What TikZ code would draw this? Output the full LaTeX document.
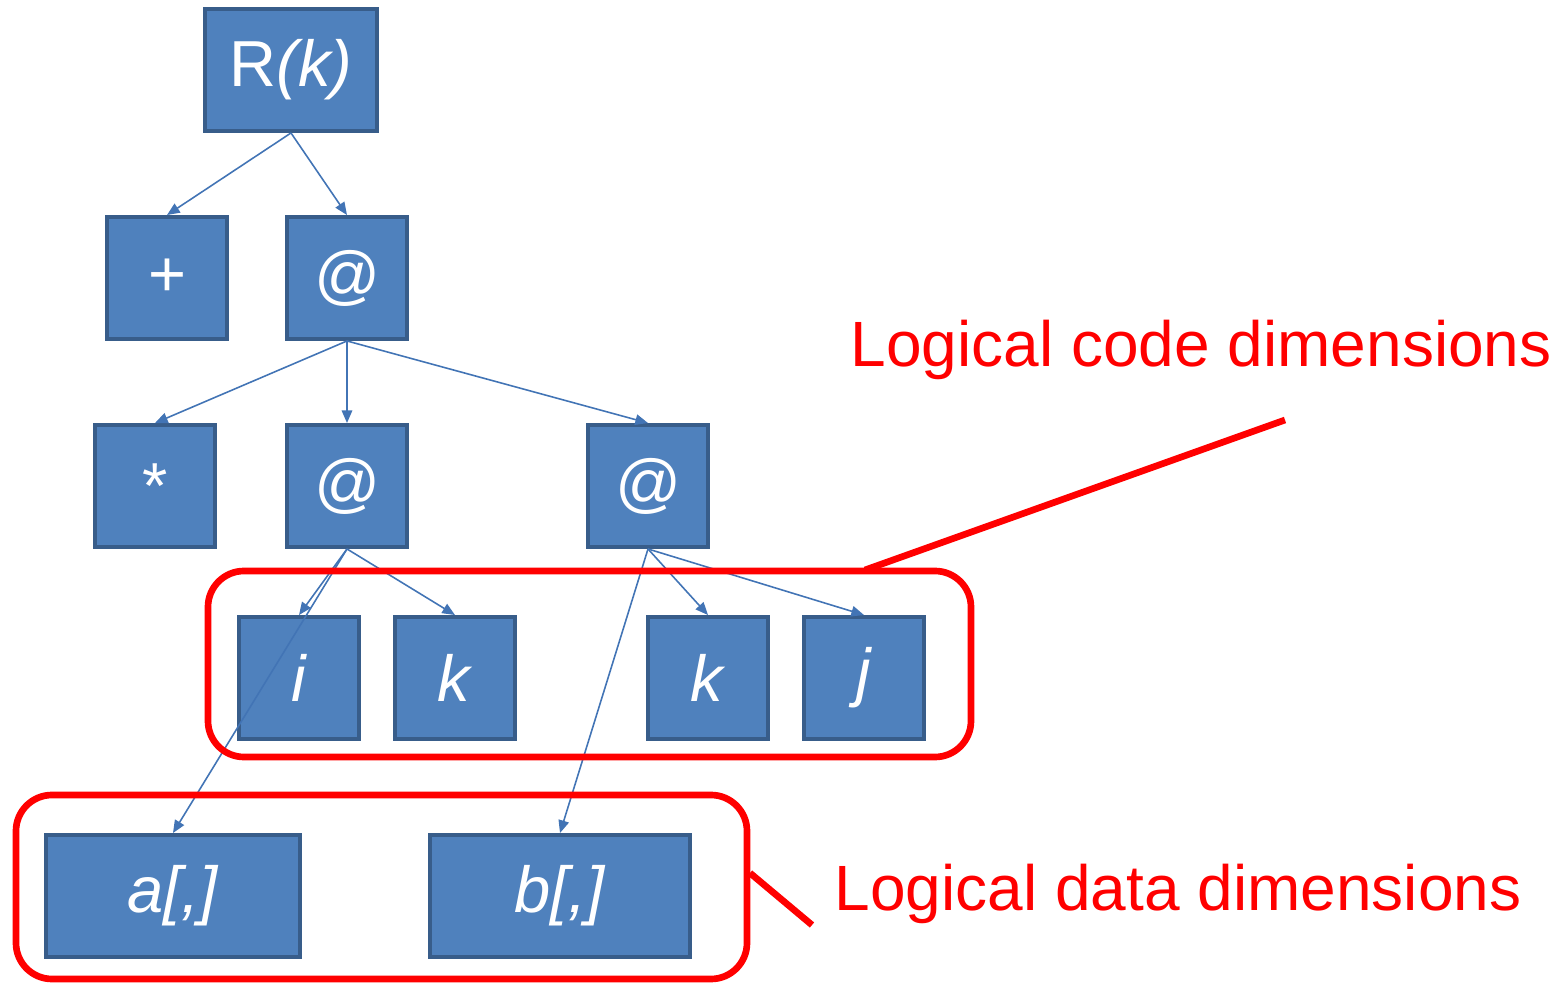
\documentclass[tikz,border=0pt]{standalone}
\usepackage{fontspec}
\setmainfont{Liberation Sans}
\usetikzlibrary{arrows.meta}
\definecolor{boxfill}{HTML}{4F81BD}
\definecolor{boxline}{HTML}{385D8A}
\definecolor{edgeblue}{HTML}{4274B5}
\tikzset{
  blk/.style={draw=boxline, fill=boxfill, line width=1.1pt, text=white,
    minimum width=1.20cm, minimum height=1.22cm, inner sep=0pt, font=\fontsize{18.5}{20}\selectfont},
  edge/.style={draw=edgeblue, line width=0.45pt, -{Triangle[length=3.6pt,width=3pt]}},
  grp/.style={draw=red, line width=1.9pt, rounded corners=0.36cm},
  note/.style={text=red, inner sep=0pt, anchor=base west, font=\fontsize{18.2}{20}\selectfont}
}
\begin{document}
\begin{tikzpicture}[x=0.01cm, y=-0.01cm]
  \useasboundingbox (0,0) rectangle (1556,985);
  % Tree nodes
  \node[blk, minimum width=1.72cm] (root) at (291,70) {R\textit{(k)}};
  \node[blk] (plus) at (167,278) {+};
  \node[blk] (at1) at (347,278) {\textit{@}};
  \node[blk] (star) at (155,486) {*};
  \node[blk] (at2) at (347,486) {\textit{@}};
  \node[blk] (at3) at (648,486) {\textit{@}};
  \node[blk] (ci) at (299,678) {\textit{i}};
  \node[blk] (ck) at (455,678) {\textit{k}};
  \node[blk] (dk) at (708,678) {\textit{k}};
  \node[blk] (dj) at (864,678) {\textit{j}};
  \node[blk, minimum width=2.54cm] (arr a) at (173,896) {\textit{a[,]}};
  \node[blk, minimum width=2.59cm] (arr b) at (560,896) {\textit{b[,]}};
  % Edges
  \draw[edge] (root.south) -- (plus.north);
  \draw[edge] (root.south) -- (at1.north);
  \draw[edge] (at1.south) -- (star.north);
  \draw[edge] (at1.south) -- (at2.north);
  \draw[edge] (at1.south) -- (at3.north);
  \draw[edge] (at2.south) -- (ci.north);
  \draw[edge] (at2.south) -- (ck.north);
  \draw[edge] (at2.south) -- (arr a.north);
  \draw[edge] (at3.south) -- (dk.north);
  \draw[edge] (at3.south) -- (dj.north);
  \draw[edge] (at3.south) -- (arr b.north);
  % Groups
  \draw[grp] (208,571) rectangle (971,757);
  \draw[grp] (16,795) rectangle (747,979);
  % Labels and pointers
  \node[note] (code lbl) at (850,367) {Logical code dimensions};
  \node[note] (data lbl) at (834,911) {Logical data dimensions};
  \coordinate (code tip) at (1285,420);
  \coordinate (code foot) at (865,570);
  \coordinate (data tip) at (812,925);
  \coordinate (data foot) at (750,873);
  \draw[red, line width=1.9pt] (code foot) -- (code tip);
  \draw[red, line width=1.9pt] (data foot) -- (data tip);
\end{tikzpicture}
\end{document}
